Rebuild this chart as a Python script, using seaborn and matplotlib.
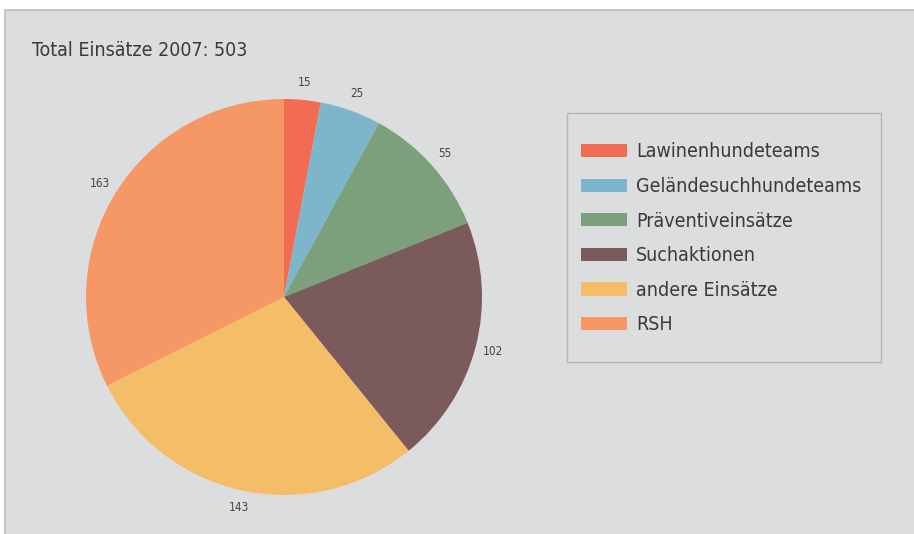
import matplotlib
matplotlib.use("Agg")
import matplotlib.pyplot as plt
from matplotlib.patches import Rectangle, Patch
import seaborn as sns

categories = ["Lawinenhundeteams", "Geländesuchhundeteams", "Präventiveinsätze",
              "Suchaktionen", "andere Einsätze", "RSH"]
values = [15, 25, 55, 102, 143, 163]
colors = ["#f26c54", "#7db6cb", "#7c9f7c", "#7b5a5c", "#f4bd67", "#f69865"]
title = "Total Einsätze 2007: 503"

sns.set_theme(style="white")
plt.rcParams["font.family"] = ["DejaVu Sans"]
plt.rcParams["font.stretch"] = "condensed"

W, H = 914, 534
fig = plt.figure(figsize=(W / 100, H / 100), dpi=100)
fig.patch.set_facecolor("white")

bg = "#dcdddf"
fig.patches.append(Rectangle((5 / W, -0.01), 1.0, (H - 10) / H + 0.01,
                             transform=fig.transFigure, facecolor=bg,
                             edgecolor="#bdbdbd", linewidth=1.2, zorder=-5))

cx, cy, r = 284, 297, 198
ax = fig.add_axes([(cx - r) / W, (H - cy - r) / H, 2 * r / W, 2 * r / H])
ax.set_zorder(2)
ax.set_facecolor("none")
total = sum(values)
wedges, _, autotexts = ax.pie(values, colors=colors, startangle=90, counterclock=False,
                              radius=1.0, autopct=lambda p: f"{round(p * total / 100)}",
                              pctdistance=1.09,
                              wedgeprops=dict(linewidth=0),
                              textprops=dict(color="#444444", fontsize=8.5))
ax.set_xlim(-1, 1)
ax.set_ylim(-1, 1)
ax.set_aspect("auto")
ax.axis("off")

fig.text(32 / W, 1 - 51 / H, title, fontsize=14, color="#3a3a3a",
         va="center", ha="left")

# legend frame drawn separately so the inner padding can differ per side
fig.patches.append(Rectangle((567 / W, 1 - 362 / H), (881 - 567) / W, (362 - 113) / H,
                             transform=fig.transFigure, facecolor=bg,
                             edgecolor="#b5b5b5", linewidth=1.0, zorder=1))

handles = [Patch(facecolor=c, edgecolor="none") for c in colors]
leg = fig.legend(handles, categories, loc="upper left",
                 bbox_to_anchor=(581 / W, 1 - 142.5 / H),
                 fontsize=14, frameon=False,
                 handlelength=2.37, handleheight=0.67, handletextpad=0.46,
                 labelspacing=0.8, borderpad=0, borderaxespad=0)
leg.set_zorder(3)
for t in leg.get_texts():
    t.set_color("#3a3a3a")

fig.savefig("out.png", dpi=100, facecolor=fig.get_facecolor())
